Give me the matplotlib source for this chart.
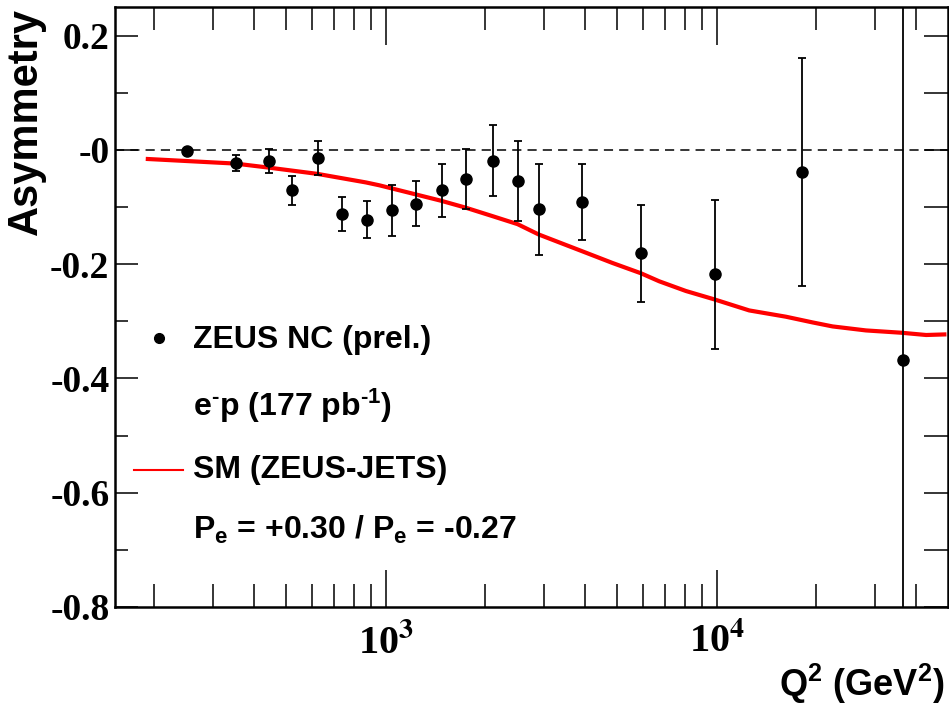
import matplotlib
matplotlib.use("Agg")
import matplotlib.pyplot as plt
from matplotlib.ticker import FixedLocator, FixedFormatter, NullFormatter

plt.rcParams["mathtext.fontset"] = "custom"
plt.rcParams["mathtext.rm"] = "Liberation Sans:bold"
plt.rcParams["mathtext.bf"] = "Liberation Sans:bold"
plt.rcParams["mathtext.it"] = "Liberation Sans:bold"

# --- ZEUS NC asymmetry points --------------------------------------------------
q2 = [251, 352, 443, 520, 624, 736, 877, 1043, 1232, 1477, 1745, 2104, 2504,
      2899, 3909, 5895, 9860, 18060, 36450]
asym = [-0.002, -0.023, -0.019, -0.071, -0.014, -0.112, -0.122, -0.106, -0.094,
        -0.071, -0.051, -0.019, -0.055, -0.104, -0.091, -0.181, -0.218, -0.039,
        -0.367]
asym_err = [0.0, 0.014, 0.021, 0.025, 0.030, 0.030, 0.032, 0.045, 0.040, 0.047,
            0.053, 0.062, 0.070, 0.080, 0.067, 0.085, 0.130, 0.200, 1.5]

# --- SM (ZEUS-JETS) prediction ---------------------------------------------------
sm_q2 = [191, 351, 442, 621, 871, 956, 1233, 1468, 1740, 2102, 2502, 2896, 3345,
         3905, 4845, 5905, 6703, 8072, 9880, 12540, 16190, 19490, 22400, 28250,
         36060, 42950, 48750]
sm_asym = [-0.016, -0.024, -0.031, -0.042, -0.057, -0.062, -0.078, -0.089, -0.101,
           -0.116, -0.130, -0.148, -0.162, -0.177, -0.198, -0.216, -0.230, -0.247,
           -0.262, -0.281, -0.292, -0.302, -0.309, -0.316, -0.320, -0.324, -0.323]

x_major = [1e3, 1e4]
x_major_labels = [r"10$^{\mathbf{3}}$", r"10$^{\mathbf{4}}$"]
x_minor = [200, 300, 400, 500, 600, 700, 800, 900,
           2000, 3000, 4000, 5000, 6000, 7000, 8000, 9000,
           20000, 30000, 40000]
y_major = [-0.8, -0.6, -0.4, -0.2, 0.0, 0.2]
y_major_labels = ["-0.8", "-0.6", "-0.4", "-0.2", "-0", "0.2"]
y_minor = [-0.7, -0.5, -0.3, -0.1, 0.1]

legend_lines = ["ZEUS NC (prel.)",
                r"e$^{\text{-}}$p (177 pb$^{\text{-1}}$)",
                "SM (ZEUS-JETS)",
                r"P$_{\mathbf{e}}$ = +0.30 / P$_{\mathbf{e}}$ = -0.27"]

W, H = 949, 706
fig = plt.figure(figsize=(W / 100, H / 100), dpi=100)
ax = fig.add_axes([115 / W, 1 - 607 / H, 833 / W, 600 / H])

ax.set_xscale("log")
ax.set_xlim(152, 50000)
ax.set_ylim(-0.8, 0.25)

ax.axhline(0, color="k", lw=1.1, ls=(0, (6, 4)), zorder=1)
ax.plot(sm_q2, sm_asym, color="#ff0000", lw=3.0, zorder=2)
ax.errorbar(q2, asym, yerr=asym_err, fmt="o", color="k", ms=8, elinewidth=1.3,
            capsize=3, capthick=1.3, zorder=3)

# axes / ticks, ROOT style
for s in ax.spines.values():
    s.set_linewidth(1.8)
ax.xaxis.set_major_locator(FixedLocator(x_major))
ax.xaxis.set_major_formatter(FixedFormatter(x_major_labels))
ax.xaxis.set_minor_locator(FixedLocator(x_minor))
ax.xaxis.set_minor_formatter(NullFormatter())
ax.yaxis.set_major_locator(FixedLocator(y_major))
ax.yaxis.set_major_formatter(FixedFormatter(y_major_labels))
ax.yaxis.set_minor_locator(FixedLocator(y_minor))
ax.tick_params(axis="x", which="both", direction="in", top=True, bottom=True, width=1.1)
ax.tick_params(axis="x", which="major", length=27, pad=12)
ax.tick_params(axis="x", which="minor", length=16.5)
ax.tick_params(axis="y", which="both", direction="in", left=True, right=False, width=1.1)
ax.tick_params(axis="y", which="major", length=16.5, pad=4)
ax.tick_params(axis="y", which="minor", length=9.5)
for lab in ax.get_yticklabels():
    lab.set_fontfamily("Liberation Serif")
    lab.set_fontweight("bold")
    lab.set_fontsize(27)
for lab in ax.get_xticklabels():
    lab.set_fontfamily("Liberation Serif")
    lab.set_fontweight("bold")
    lab.set_fontsize(29)
    lab.set_math_fontfamily("stix")

# right side: all ticks equal length
axr = ax.twinx()
axr.set_ylim(ax.get_ylim())
axr.yaxis.set_major_locator(FixedLocator(y_major + y_minor))
axr.yaxis.set_major_formatter(NullFormatter())
axr.tick_params(axis="y", direction="in", length=17, width=1.1)
for s in axr.spines.values():
    s.set_visible(False)

fig.text(26 / W, 1 - 8 / H, "Asymmetry", rotation=90, ha="center", va="top",
         family="Liberation Sans", weight="bold", size=30)
fig.text(945 / W, 1 - 696 / H, r"Q$^{\mathbf{2}}$ (GeV$^{\mathbf{2}}$)", ha="right",
         va="baseline", family="Liberation Sans", weight="bold", size=26)

# legend (drawn by hand, ROOT TLegend style)
fig.lines.append(plt.Line2D([159 / W], [1 - 338 / H], marker="o", ms=7, color="k",
                            ls="none", transform=fig.transFigure))
fig.lines.append(plt.Line2D([134 / W, 183 / W], [1 - 470 / H, 1 - 470 / H],
                            color="#ff0000", lw=1.5, transform=fig.transFigure))
for txt, yp in zip(legend_lines, [340, 406, 470, 530]):
    fig.text(193 / W, 1 - yp / H, txt, ha="left", va="center",
             family="Liberation Sans", weight="bold", size=23)

fig.savefig("out.png", dpi=100)
